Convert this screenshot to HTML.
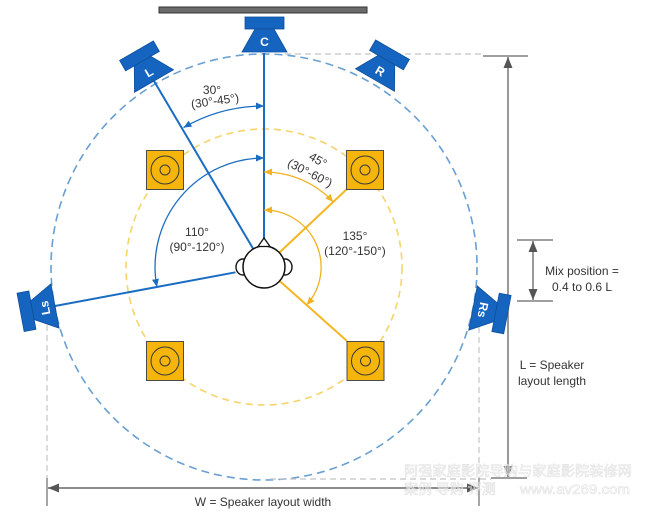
<!DOCTYPE html>
<html><head><meta charset="utf-8"><style>
html,body{margin:0;padding:0;background:#fff;}
svg{display:block;}
text{font-family:"Liberation Sans","Noto Sans CJK SC",sans-serif;}
</style></head><body>
<svg width="650" height="519" viewBox="0 0 650 519" xmlns="http://www.w3.org/2000/svg">
<defs>
<marker id="ab" markerUnits="userSpaceOnUse" markerWidth="9" markerHeight="7" refX="8" refY="3.5" orient="auto-start-reverse"><path d="M0,0 L8,3.5 L0,7 z" fill="#1a6dc2"/></marker>
<marker id="ay" markerUnits="userSpaceOnUse" markerWidth="9" markerHeight="7" refX="8" refY="3.5" orient="auto-start-reverse"><path d="M0,0 L8,3.5 L0,7 z" fill="#f0b21e"/></marker>
<marker id="ag" markerUnits="userSpaceOnUse" markerWidth="12" markerHeight="10" refX="11" refY="4.5" orient="auto-start-reverse"><path d="M0,0 L11,4.5 L0,9 z" fill="#555"/></marker>
<g id="spk">
<rect x="-19.5" y="-35" width="39" height="12" fill="#1565c0" stroke="#0e4f9a" stroke-width="0.8"/>
<path d="M-22.5,0 L22.5,0 L9.5,-23 L-9.5,-23 z" fill="#1565c0" stroke="#0e4f9a" stroke-width="0.8"/>
</g>
<g id="ysq">
<rect x="-18.5" y="-19.5" width="37" height="39" fill="#f5b50a" stroke="#4a4a4a" stroke-width="1"/>
<circle r="14" fill="none" stroke="#3a3a3a" stroke-width="1"/>
<circle r="5" fill="none" stroke="#3a3a3a" stroke-width="1"/>
</g>
</defs>

<!-- TV bar -->
<rect x="159" y="7" width="208" height="6" fill="#6b6b6b" stroke="#333" stroke-width="1"/>

<!-- dashed circles -->
<circle cx="264" cy="267" r="213" fill="none" stroke="#6a9fd2" stroke-width="1.6" stroke-dasharray="8 5"/>
<circle cx="264" cy="267" r="138" fill="none" stroke="#f6d46a" stroke-width="1.6" stroke-dasharray="7 5"/>

<!-- light gray dashed guides -->
<line x1="285" y1="54" x2="483" y2="54" stroke="#c4c4c4" stroke-width="1.2" stroke-dasharray="6 4"/>
<line x1="270" y1="479" x2="491" y2="479" stroke="#c4c4c4" stroke-width="1.2" stroke-dasharray="6 4"/>
<line x1="47" y1="325" x2="47" y2="478" stroke="#c4c4c4" stroke-width="1.2" stroke-dasharray="6 4"/>
<line x1="479" y1="327" x2="479" y2="478" stroke="#c4c4c4" stroke-width="1.2" stroke-dasharray="6 4"/>
<line x1="47" y1="478" x2="47" y2="506" stroke="#777" stroke-width="1.3"/>
<line x1="479" y1="478" x2="479" y2="506" stroke="#777" stroke-width="1.3"/>

<!-- dimension lines -->
<line x1="483" y1="56" x2="528" y2="56" stroke="#666" stroke-width="1.3"/>
<line x1="491" y1="478" x2="527" y2="478" stroke="#666" stroke-width="1.3"/>
<line x1="508" y1="57" x2="508" y2="477" stroke="#777" stroke-width="1.5" marker-start="url(#ag)" marker-end="url(#ag)"/>
<line x1="517" y1="240" x2="553" y2="240" stroke="#666" stroke-width="1.3"/>
<line x1="517" y1="301" x2="553" y2="301" stroke="#666" stroke-width="1.3"/>
<line x1="533" y1="241" x2="533" y2="300" stroke="#777" stroke-width="1.5" marker-start="url(#ag)" marker-end="url(#ag)"/>
<line x1="48" y1="488" x2="478" y2="488" stroke="#666" stroke-width="1.5" marker-start="url(#ag)" marker-end="url(#ag)"/>

<!-- yellow lines -->
<line x1="279.3" y1="252.6" x2="347" y2="189" stroke="#f5b623" stroke-width="2"/>
<line x1="279.7" y1="281" x2="347" y2="341" stroke="#f5b623" stroke-width="2"/>

<!-- blue lines -->
<line x1="264" y1="53" x2="264" y2="240" stroke="#1a6dc2" stroke-width="2"/>
<line x1="154" y1="81" x2="253.3" y2="249" stroke="#1a6dc2" stroke-width="2"/>
<line x1="55" y1="306" x2="235.5" y2="272.3" stroke="#1a6dc2" stroke-width="2"/>

<!-- arcs -->
<path d="M264,106 A161,161 0 0 0 183.5,127.6" fill="none" stroke="#1a6dc2" stroke-width="1.3" marker-start="url(#ab)" marker-end="url(#ab)"/>
<path d="M264,158 A109,109 0 0 0 156.9,287" fill="none" stroke="#1a6dc2" stroke-width="1.3" marker-start="url(#ab)" marker-end="url(#ab)"/>
<path d="M264,172 A95,95 0 0 1 333.3,202" fill="none" stroke="#f0b21e" stroke-width="1.3" marker-start="url(#ay)" marker-end="url(#ay)"/>
<path d="M264,210 A57,57 0 0 1 306.6,305" fill="none" stroke="#f0b21e" stroke-width="1.3" marker-start="url(#ay)" marker-end="url(#ay)"/>

<!-- yellow speakers -->
<use href="#ysq" x="165" y="170"/>
<use href="#ysq" x="365" y="170"/>
<use href="#ysq" x="165" y="361"/>
<use href="#ysq" x="365.5" y="361"/>

<!-- blue speakers -->
<g transform="translate(264.5,52)"><use href="#spk"/><text x="0" y="-6" fill="#fff" font-size="12" font-weight="bold" text-anchor="middle">C</text></g>
<g transform="translate(154,81) rotate(-30)"><use href="#spk"/><text x="0" y="-6" fill="#fff" font-size="12" font-weight="bold" text-anchor="middle">L</text></g>
<g transform="translate(375,80) rotate(30)"><use href="#spk"/><text x="0" y="-6" fill="#fff" font-size="12" font-weight="bold" text-anchor="middle">R</text></g>
<g transform="translate(55,306) rotate(-100.5)"><use href="#spk"/><text x="0" y="-6" fill="#fff" font-size="12" font-weight="bold" text-anchor="middle">Ls</text></g>
<g transform="translate(473,308) rotate(100.9)"><use href="#spk"/><text x="0" y="-6" fill="#fff" font-size="12" font-weight="bold" text-anchor="middle">Rs</text></g>

<!-- head -->
<ellipse cx="243" cy="267" rx="7" ry="8" fill="#fff" stroke="#111" stroke-width="1.4"/>
<ellipse cx="285" cy="267" rx="7" ry="8" fill="#fff" stroke="#111" stroke-width="1.4"/>
<circle cx="264" cy="267" r="21" fill="#fff" stroke="#111" stroke-width="1.5"/>
<path d="M258,246.5 L264,238 L270,246.5 z" fill="#fff" stroke="#111" stroke-width="1.3"/>

<!-- labels -->
<g fill="#333" font-size="12" text-anchor="middle">
<text x="212" y="94">30°</text>
<text x="215" y="105" transform="rotate(-8 215 101)">(30°-45°)</text>
<text x="318" y="164" transform="rotate(30 318 160)">45°</text>
<text x="310" y="177" transform="rotate(27 310 173)">(30°-60°)</text>
<text x="197" y="236">110°</text>
<text x="197" y="251">(90°-120°)</text>
<text x="355" y="240">135°</text>
<text x="355" y="255">(120°-150°)</text>
<text x="582" y="275">Mix position =</text>
<text x="582" y="291">0.4 to 0.6 L</text>
<text x="552" y="369">L = Speaker</text>
<text x="552" y="385">layout length</text>
<text x="263" y="506">W = Speaker layout width</text>
</g>

<!-- watermark -->
<g font-size="14" fill="none" stroke="#e2e2e2" stroke-width="0.6" font-family="'Noto Sans CJK SC',sans-serif">
<text x="404" y="476" textLength="228" lengthAdjust="spacingAndGlyphs">阿强家庭影院导购与家庭影院装修网</text>
<text x="404" y="494">案例 导购 评测</text>
<text x="520" y="494" textLength="110" lengthAdjust="spacingAndGlyphs" font-family="'Liberation Mono',monospace">www.av269.com</text>
</g>
</svg>
</body></html>
